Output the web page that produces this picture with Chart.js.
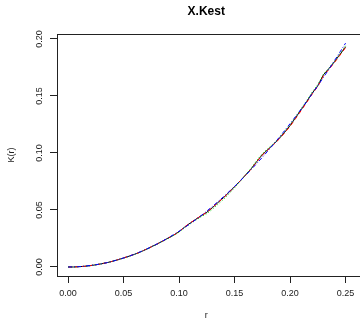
<!DOCTYPE html>
<html>
<head>
<meta charset="utf-8">
<script src="https://cdn.jsdelivr.net/npm/chart.js@4"></script>
<style>
  html, body { margin: 0; padding: 0; background: #fff; }
  canvas { display: block; }
</style>
</head>
<body>
<canvas id="kestChart" width="360" height="320"></canvas>
<script>
// r values and K(r) estimates
const rValues = [0.000, 0.005, 0.010, 0.015, 0.020, 0.025, 0.030, 0.035, 0.040, 0.045,
    0.050, 0.055, 0.060, 0.065, 0.070, 0.075, 0.080, 0.085, 0.090, 0.095,
    0.100, 0.105, 0.110, 0.115, 0.120, 0.125, 0.130, 0.135, 0.140, 0.145,
    0.150, 0.155, 0.160, 0.165, 0.170, 0.175, 0.180, 0.185, 0.190, 0.195,
    0.200, 0.205, 0.210, 0.215, 0.220, 0.225, 0.230, 0.235, 0.240, 0.245, 0.250];

const isoK = [0.0000, 0.0000, 0.0003, 0.0006, 0.0012, 0.0019, 0.0028, 0.0038, 0.0050, 0.0064,
    0.0079, 0.0095, 0.0112, 0.0131, 0.0153, 0.0177, 0.0200, 0.0226, 0.0253, 0.0278,
    0.0310, 0.0350, 0.0385, 0.0418, 0.0450, 0.0480, 0.0520, 0.0565, 0.0608, 0.0655,
    0.0705, 0.0755, 0.0808, 0.0862, 0.0925, 0.0985, 0.1030, 0.1075, 0.1125, 0.1180,
    0.1240, 0.1310, 0.1380, 0.1450, 0.1525, 0.1590, 0.1685, 0.1740, 0.1800, 0.1865, 0.1930];

const transK = [0.0000, 0.0000, 0.0003, 0.0006, 0.0012, 0.0019, 0.0028, 0.0038, 0.0050, 0.0064,
    0.0080, 0.0096, 0.0112, 0.0131, 0.0154, 0.0177, 0.0201, 0.0226, 0.0253, 0.0279,
    0.0310, 0.0352, 0.0386, 0.0419, 0.0450, 0.0481, 0.0521, 0.0565, 0.0607, 0.0655,
    0.0704, 0.0754, 0.0806, 0.0860, 0.0922, 0.0982, 0.1027, 0.1072, 0.1120, 0.1175,
    0.1234, 0.1302, 0.1372, 0.1444, 0.1518, 0.1584, 0.1676, 0.1733, 0.1793, 0.1858, 0.1925];

const borderK = [0.0000, 0.0000, 0.0003, 0.0006, 0.0012, 0.0019, 0.0028, 0.0038, 0.0050, 0.0063,
    0.0078, 0.0094, 0.0111, 0.0130, 0.0152, 0.0175, 0.0199, 0.0224, 0.0250, 0.0276,
    0.0305, 0.0344, 0.0378, 0.0410, 0.0440, 0.0468, 0.0506, 0.0550, 0.0593, 0.0642,
    0.0695, 0.0750, 0.0808, 0.0868, 0.0935, 0.0995, 0.1038, 0.1082, 0.1132, 0.1188,
    0.1248, 0.1318, 0.1388, 0.1460, 0.1535, 0.1600, 0.1690, 0.1745, 0.1805, 0.1870, 0.1940];

const theoK = [0.0000, 0.0001, 0.0003, 0.0007, 0.0013, 0.0020, 0.0028, 0.0038, 0.0050, 0.0064,
    0.0079, 0.0095, 0.0113, 0.0133, 0.0154, 0.0177, 0.0201, 0.0227, 0.0254, 0.0284,
    0.0314, 0.0346, 0.0380, 0.0415, 0.0452, 0.0491, 0.0531, 0.0573, 0.0616, 0.0661,
    0.0707, 0.0755, 0.0804, 0.0855, 0.0908, 0.0962, 0.1018, 0.1075, 0.1134, 0.1195,
    0.1257, 0.1320, 0.1385, 0.1452, 0.1521, 0.1590, 0.1662, 0.1735, 0.1810, 0.1886, 0.1963];

const xTicks = [0, 0.05, 0.10, 0.15, 0.20, 0.25];
const yTicks = [0, 0.05, 0.10, 0.15, 0.20];

const fontFamily = '"Liberation Sans", Arial, Helvetica, sans-serif';

function toPoints(values) {
    return rValues.map((r, i) => ({ x: r, y: values[i] }));
}

// R style box round the plot region
const boxPlugin = {
    id: 'plotBox',
    afterDraw(chart) {
        const { ctx, chartArea } = chart;
        ctx.save();
        ctx.strokeStyle = '#222';
        ctx.lineWidth = 1;
        ctx.strokeRect(Math.round(chartArea.left) + 0.5, Math.round(chartArea.top) + 0.5,
            chartArea.right - chartArea.left + 10, Math.round(chartArea.bottom - chartArea.top));
        ctx.restore();
    }
};

const ctx = document.getElementById('kestChart').getContext('2d');

new Chart(ctx, {
    type: 'line',
    data: {
        datasets: [
            {
                label: 'theo',
                data: toPoints(theoK),
                borderColor: '#0000ff',
                borderDash: [4, 2, 1, 2]
            },
            {
                label: 'border',
                data: toPoints(borderK),
                borderColor: '#00cd00',
                borderDash: [1, 2]
            },
            {
                label: 'trans',
                data: toPoints(transK),
                borderColor: '#ff0000',
                borderDash: [4, 3]
            },
            {
                label: 'iso',
                data: toPoints(isoK),
                borderColor: '#000000'
            }
        ]
    },
    options: {
        responsive: false,
        devicePixelRatio: 1,
        animation: false,
        elements: {
            point: { radius: 0 },
            line: { borderWidth: 1, tension: 0, fill: false }
        },
        layout: { padding: 0 },
        plugins: {
            legend: { display: false },
            tooltip: { enabled: false },
            title: {
                display: true,
                text: 'X.Kest',
                fullSize: false,
                color: '#000',
                font: { family: fontFamily, size: 12, weight: 'bold' },
                padding: { top: 4.5, bottom: 15 }
            }
        },
        scales: {
            x: {
                type: 'linear',
                min: -0.01,
                max: 0.2589,
                afterBuildTicks: scale => { scale.ticks = xTicks.map(v => ({ value: v })); },
                afterFit: scale => { scale.height = 44; },
                border: { display: false },
                grid: { drawOnChartArea: false, tickLength: 7, color: '#222', lineWidth: 1 },
                ticks: {
                    callback: v => Number(v).toFixed(2),
                    color: '#1a1a1a',
                    font: { family: fontFamily, size: 9 },
                    padding: 5.5,
                    maxRotation: 0
                },
                title: {
                    display: true,
                    text: 'r',
                    color: '#222',
                    font: { family: fontFamily, size: 9, lineHeight: 1 },
                    padding: { top: 0, bottom: 0 }
                }
            },
            y: {
                type: 'linear',
                min: -0.0079,
                max: 0.2044,
                afterBuildTicks: scale => { scale.ticks = yTicks.map(v => ({ value: v })); },
                afterFit: scale => { scale.width = 57; },
                border: { display: false },
                grid: { drawOnChartArea: false, tickLength: 7, color: '#222', lineWidth: 1 },
                ticks: {
                    callback: v => Number(v).toFixed(2),
                    color: '#1a1a1a',
                    font: { family: fontFamily, size: 9 },
                    minRotation: 90,
                    maxRotation: 90,
                    crossAlign: 'center',
                    padding: 1.5
                },
                title: {
                    display: true,
                    text: 'K(r)',
                    color: '#222',
                    font: { family: fontFamily, size: 9 },
                    padding: { top: 6, bottom: 0 }
                }
            }
        }
    },
    plugins: [boxPlugin]
});
</script>
</body>
</html>
